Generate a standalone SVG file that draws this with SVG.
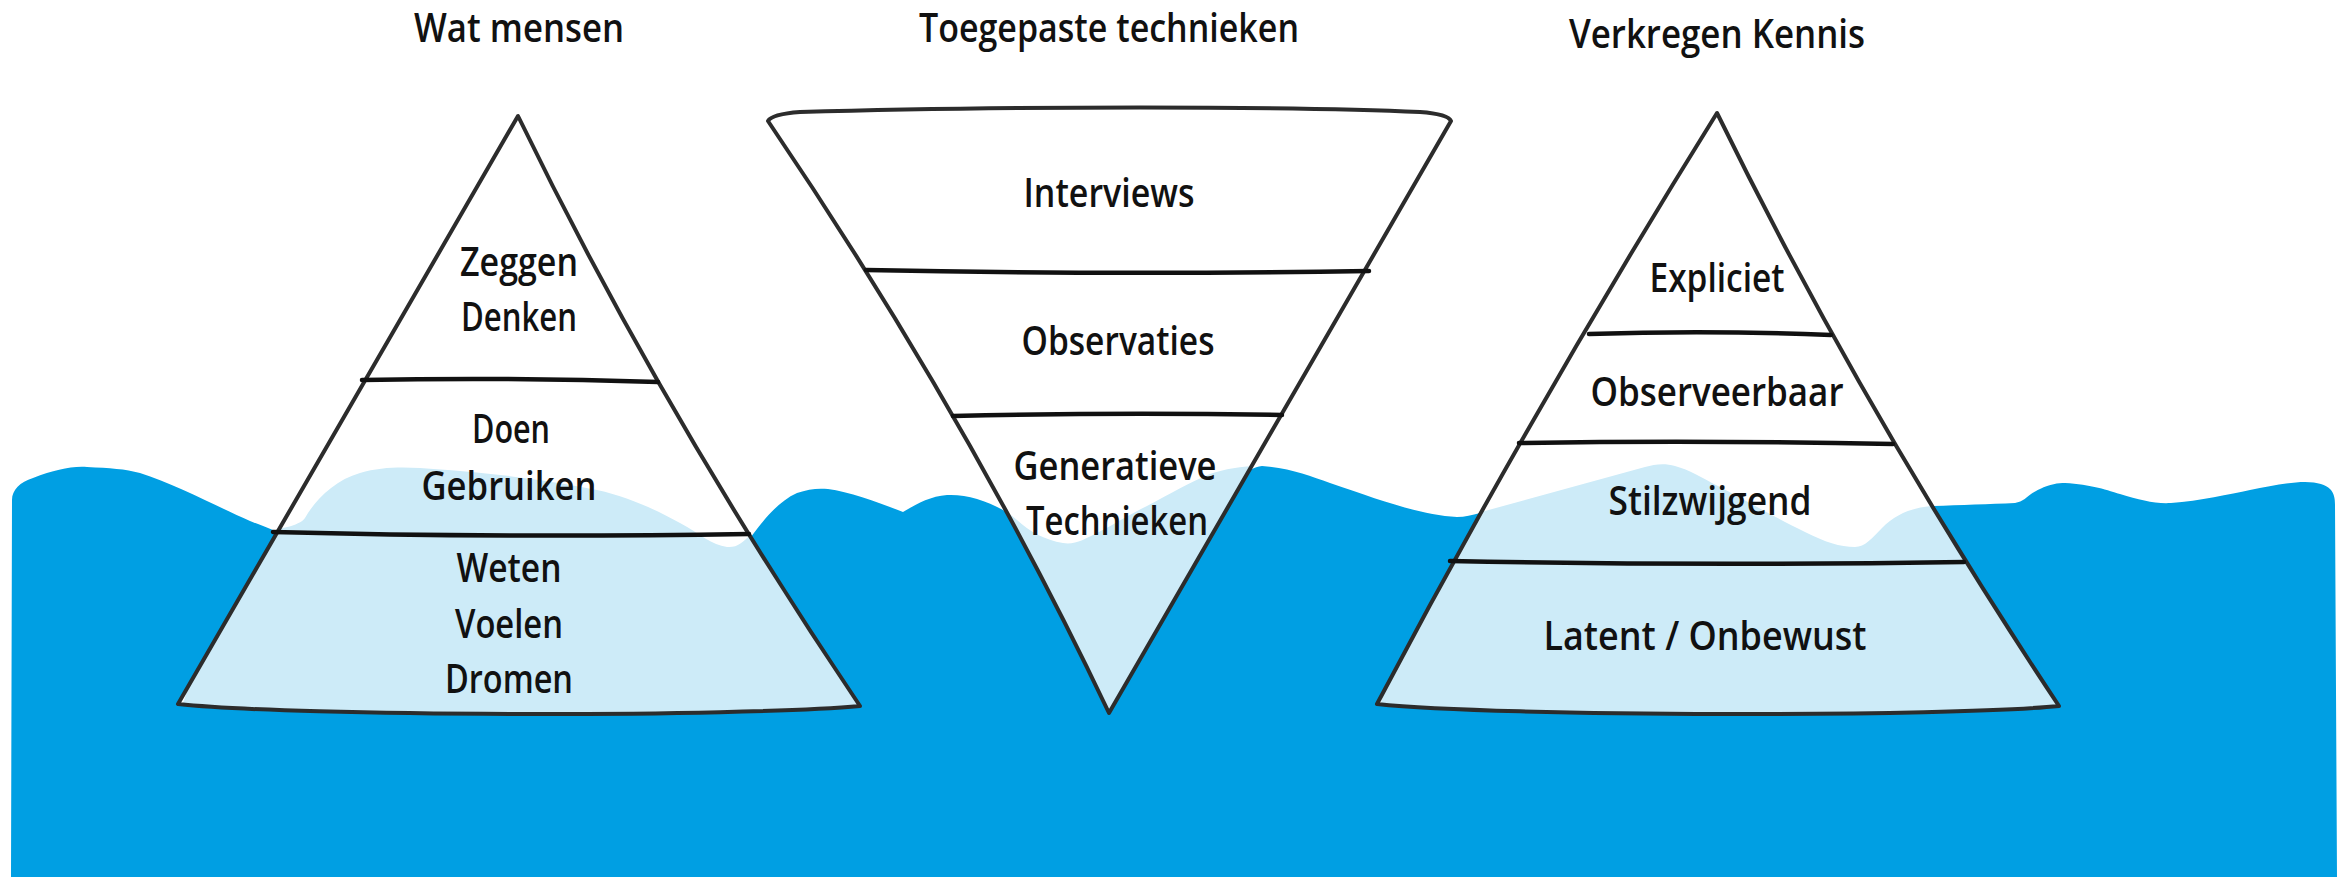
<svg xmlns="http://www.w3.org/2000/svg" width="2348" height="877" viewBox="0 0 2348 877">
  <style>
    .sea { fill: #009fe3; }
    .ice { fill: #ffffff; }
    .under { fill: #cdebf8; }
    .edge { fill: none; stroke: #2c2c2c; stroke-width: 4; stroke-linejoin: round; stroke-linecap: round; }
    .div { fill: none; stroke: #111111; stroke-width: 4.5; stroke-linecap: round; }
    .t { font-family: "Open Sans", "Liberation Sans", sans-serif; font-size: 40px; font-weight: 600; fill: #111111; text-anchor: middle; }
  </style>
  <defs>
    <!-- iceberg silhouettes, reused for fill, clip and outline -->
    <path id="left-shape" d="M518,116 L178,704 C300,717 740,717 860,706 Q661,411 518,116 Z"/>
    <path id="funnel-shape" d="M768,121 Q772,114 800,112 C1000,106 1300,106 1420,112 Q1448,114 1451,121 L1109,713 Q968.5,417 768,121 Z"/>
    <path id="right-shape" d="M1717,113 Q1533,408.5 1377,704 C1500,717 1950,717 2059,706 Q1862,409.5 1717,113 Z"/>
    <clipPath id="clip-left"><use href="#left-shape"/></clipPath>
    <clipPath id="clip-funnel"><use href="#funnel-shape"/></clipPath>
    <clipPath id="clip-right"><use href="#right-shape"/></clipPath>
  </defs>

  <rect width="2348" height="877" fill="#ffffff"/>

  <!-- the sea -->
  <path id="water" class="sea" d="M11,877 L12,500 C12,490 20,482 33,478 C55,470 70,466 87,467 C110,468 125,469 140,473 C175,484 220,508 250,521 C265,527 275,531 290,536 L745,545 C760,525 775,503 797,493 C808,489 818,488 828,489 C850,492 880,503 903,512 C915,505 930,496 947,495 C965,494 985,500 1003,510 L1110,600 L1240,480 C1248,470 1254,467 1262,466 C1290,468 1310,476 1330,483 C1380,500 1420,515 1457,517 C1465,517 1472,515 1480,513 L1490,530 L1920,520 L1933,506 C1960,505 1990,504 2015,503 C2025,502 2028,494 2040,489 C2050,484 2058,483 2065,483 C2090,484 2110,491 2120,494 C2140,500 2155,504 2171,503 C2200,501 2230,494 2250,490 C2270,486 2290,482 2305,482 C2318,482 2326,485 2330,489 C2334,493 2335,498 2335,505 L2337,877 Z"/>

  <!-- titles -->
  <g id="titles">
    <text class="t" x="519" y="42" textLength="210" lengthAdjust="spacingAndGlyphs">Wat mensen</text>
    <text class="t" x="1109" y="42" textLength="380" lengthAdjust="spacingAndGlyphs">Toegepaste technieken</text>
    <text class="t" x="1717" y="48" textLength="296" lengthAdjust="spacingAndGlyphs">Verkregen Kennis</text>
  </g>

  <!-- left iceberg -->
  <g id="iceberg-people">
    <use href="#left-shape" class="ice"/>
    <path class="under" clip-path="url(#clip-left)" d="M240,536 C270,530 298,528 305,518 C315,500 335,480 360,473 C380,467 400,467 420,468 C470,471 540,478 597,490 C630,497 660,512 680,523 C700,534 712,545 727,547 C737,548 743,542 750,535 C760,528 770,520 790,515 L920,515 L920,800 L150,800 Z"/>
    <use href="#left-shape" class="edge"/>
    <path class="div" d="M362,380 Q510,377 658,382"/>
    <path class="div" d="M273,532 Q500,538 749,534"/>
    <text class="t" x="519" y="276" textLength="118" lengthAdjust="spacingAndGlyphs">Zeggen</text>
    <text class="t" x="519" y="331" textLength="116" lengthAdjust="spacingAndGlyphs">Denken</text>
    <text class="t" x="511" y="443" textLength="78" lengthAdjust="spacingAndGlyphs">Doen</text>
    <text class="t" x="509" y="500" textLength="175" lengthAdjust="spacingAndGlyphs">Gebruiken</text>
    <text class="t" x="509" y="582" textLength="105" lengthAdjust="spacingAndGlyphs">Weten</text>
    <text class="t" x="509" y="638" textLength="108" lengthAdjust="spacingAndGlyphs">Voelen</text>
    <text class="t" x="509" y="693" textLength="128" lengthAdjust="spacingAndGlyphs">Dromen</text>
  </g>

  <!-- inverted funnel of techniques -->
  <g id="funnel-techniques">
    <use href="#funnel-shape" class="ice"/>
    <path class="under" clip-path="url(#clip-funnel)" d="M990,505 C1000,508 1008,512 1017,520 C1030,532 1045,540 1063,543 C1075,545 1085,539 1097,533 C1115,524 1130,514 1147,506 C1170,494 1190,482 1210,474 C1225,469 1240,466 1262,466 L1300,470 L1300,800 L950,800 Z"/>
    <use href="#funnel-shape" class="edge"/>
    <path class="div" d="M866,270 Q1110,275 1369,271"/>
    <path class="div" d="M953,416 Q1120,412 1282,415"/>
    <text class="t" x="1109" y="207" textLength="171" lengthAdjust="spacingAndGlyphs">Interviews</text>
    <text class="t" x="1118" y="355" textLength="193" lengthAdjust="spacingAndGlyphs">Observaties</text>
    <text class="t" x="1115" y="480" textLength="203" lengthAdjust="spacingAndGlyphs">Generatieve</text>
    <text class="t" x="1117" y="535" textLength="182" lengthAdjust="spacingAndGlyphs">Technieken</text>
  </g>

  <!-- right iceberg -->
  <g id="iceberg-knowledge">
    <use href="#right-shape" class="ice"/>
    <path class="under" clip-path="url(#clip-right)" d="M1440,516 C1465,514 1478,512 1485,511 L1645,467 C1655,464 1665,463 1675,466 C1690,470 1700,477 1720,487 C1750,503 1780,520 1805,532 C1825,542 1840,547 1855,547 C1865,547 1872,538 1882,528 C1895,515 1910,508 1931,506 L2120,505 L2120,800 L1350,800 Z"/>
    <use href="#right-shape" class="edge"/>
    <path class="div" d="M1589,334 Q1710,330 1831,335"/>
    <path class="div" d="M1519,443 Q1700,440 1893,444"/>
    <path class="div" d="M1450,561 Q1700,566 1964,562"/>
    <text class="t" x="1717" y="292" textLength="135" lengthAdjust="spacingAndGlyphs">Expliciet</text>
    <text class="t" x="1717" y="406" textLength="253" lengthAdjust="spacingAndGlyphs">Observeerbaar</text>
    <text class="t" x="1710" y="515" textLength="203" lengthAdjust="spacingAndGlyphs">Stilzwijgend</text>
    <text class="t" x="1705" y="650" textLength="323" lengthAdjust="spacingAndGlyphs">Latent / Onbewust</text>
  </g>
</svg>
